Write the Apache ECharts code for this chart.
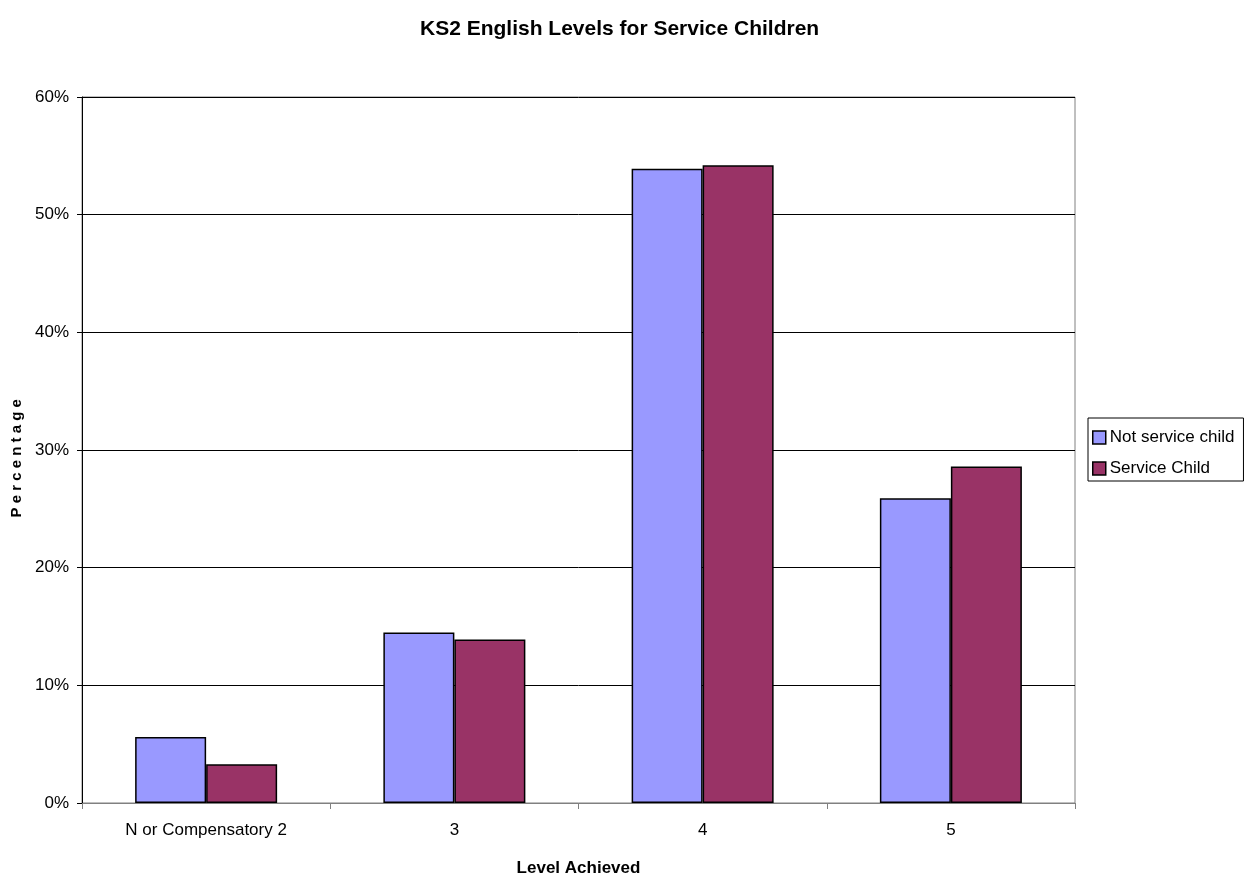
<!DOCTYPE html>
<html>
<head>
<meta charset="utf-8">
<script src="https://cdn.jsdelivr.net/npm/echarts@6/dist/echarts.min.js"></script>
<style>html,body{margin:0;padding:0;background:#fff;}#c{width:1254px;height:880px;}</style>
</head>
<body>
<div id="c"></div>
<script>
const categories = ['N or Compensatory 2', '3', '4', '5'];
const notService = [5.6, 14.5, 53.9, 25.9];
const serviceChild = [3.3, 13.9, 54.2, 28.6];
const seriesNames = ['Not service child', 'Service Child'];
const titleText = 'KS2 English Levels for Service Children';

const chart = echarts.init(document.getElementById('c'));
const font = 'Liberation Sans, Arial, sans-serif';
chart.setOption({
  animation: false,
  backgroundColor: '#fff',
  title: {
    text: titleText, left: 415, top: 14,
    textStyle: {fontFamily: font, fontSize: 21, fontWeight: 'bold', color: '#000'}
  },
  legend: {
    orient: 'vertical', left: 1088, top: 418,
    itemWidth: 13, itemHeight: 13, itemGap: 14,
    borderColor: '#000', borderWidth: 1, padding: [11, 9, 4, 4],
    textStyle: {fontFamily: font, fontSize: 17, color: '#000', padding: [0, 0, 0, -1]},
    icon: 'rect',
    data: seriesNames.map(n => ({name: n, itemStyle: {borderColor: '#000', borderWidth: 1.5}}))
  },
  grid: {left: 82, right: 179, top: 97, bottom: 77, show: true, borderColor: '#808080', borderWidth: 1,
         outerBoundsMode: 'none', containLabel: false},
  xAxis: {
    type: 'category', data: categories,
    name: 'Level Achieved', nameLocation: 'middle', nameGap: 57,
    nameTextStyle: {fontFamily: font, fontSize: 17, fontWeight: 'bold', color: '#000'},
    axisLine: {lineStyle: {color: '#808080', width: 1}},
    axisTick: {show: true, length: 6, lineStyle: {color: '#808080'}},
    axisLabel: {fontFamily: font, fontSize: 17, color: '#000', margin: 19}
  },
  yAxis: {
    type: 'value', min: 0, max: 60, interval: 10,
    name: 'P e r c e n t a g e    ', nameLocation: 'middle', nameGap: 55, nameRotate: 90,
    nameTextStyle: {fontFamily: font, fontSize: 15, fontWeight: 'bold', color: '#000'},
    axisLine: {show: true, lineStyle: {color: '#000', width: 1}},
    axisTick: {show: true, length: 5, lineStyle: {color: '#000'}},
    axisLabel: {fontFamily: font, fontSize: 17, color: '#000', margin: 13, formatter: '{value}%'},
    splitLine: {lineStyle: {color: '#000', width: 1}}
  },
  series: [
    {name: seriesNames[0], type: 'bar', data: notService, barWidth: 71, barGap: '0%',
     itemStyle: {color: '#9999ff', borderColor: '#000', borderWidth: 1.5}},
    {name: seriesNames[1], type: 'bar', data: serviceChild, barWidth: 71,
     itemStyle: {color: '#993366', borderColor: '#000', borderWidth: 1.5}}
  ]
});
</script>
</body>
</html>
